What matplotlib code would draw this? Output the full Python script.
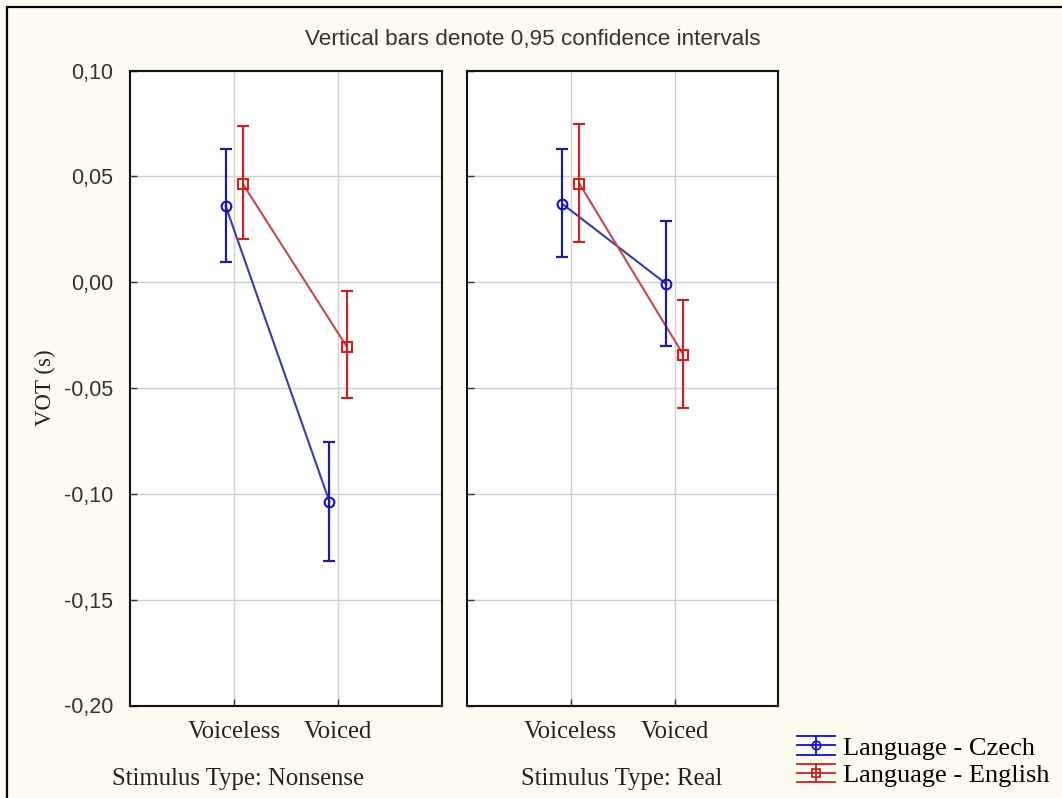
import matplotlib
matplotlib.use("Agg")
import matplotlib.pyplot as plt
from matplotlib.lines import Line2D
from matplotlib.legend_handler import HandlerBase
from matplotlib.ticker import FuncFormatter
from matplotlib.patches import Rectangle

# ---------------- data ----------------
categories = ["Voiceless", "Voiced"]
panels = ["Stimulus Type: Nonsense", "Stimulus Type: Real"]
languages = ["Language - Czech", "Language - English"]

nonsense_czech_mean = [0.0361, -0.1037]
nonsense_czech_lo = [0.0093, -0.1315]
nonsense_czech_hi = [0.0630, -0.0757]
nonsense_english_mean = [0.0465, -0.0304]
nonsense_english_lo = [0.0205, -0.0546]
nonsense_english_hi = [0.0740, -0.0044]

real_czech_mean = [0.0370, -0.0008]
real_czech_lo = [0.0117, -0.0300]
real_czech_hi = [0.0630, 0.0290]
real_english_mean = [0.0465, -0.0343]
real_english_lo = [0.0192, -0.0593]
real_english_hi = [0.0748, -0.0085]

yticks = [0.10, 0.05, 0.00, -0.05, -0.10, -0.15, -0.20]

# ---------------- style ----------------
BG = "#FDFAF0"
BLUE_BAR = "#1f1f8f"
BLUE_LINE = "#3a3ab0"
BLUE_MK = "#1010d0"
RED_BAR = "#c02828"
RED_LINE = "#c84848"
RED_MK = "#d02020"
GRID = "#cfcfcf"

fig = plt.figure(figsize=(10.62, 7.98), dpi=100, facecolor=BG)

# border on left/top
fig.add_artist(Rectangle((7 / 1062, -0.1), 1.2, 1 - 7 / 798 + 0.1,
                         transform=fig.transFigure, fill=False,
                         edgecolor="black", linewidth=1.6))

W = 311.7 / 1062
B = (798 - 705.5) / 798
H = (705.5 - 70.5) / 798
lefts = [130 / 1062, 466.7 / 1062]

data = [
    [(nonsense_czech_mean, nonsense_czech_lo, nonsense_czech_hi),
     (nonsense_english_mean, nonsense_english_lo, nonsense_english_hi)],
    [(real_czech_mean, real_czech_lo, real_czech_hi),
     (real_english_mean, real_english_lo, real_english_hi)],
]
styles = [
    dict(offset=-0.08, bar=BLUE_BAR, line=BLUE_LINE, mk=BLUE_MK, marker="o", ms=7),
    dict(offset=0.085, bar=RED_BAR, line=RED_LINE, mk=RED_MK, marker="s", ms=6.5),
]

fmt = FuncFormatter(lambda v, p: ("%.2f" % v).replace(".", ",").replace("-0,00", "0,00"))

axes = []
for i, left in enumerate(lefts):
    ax = fig.add_axes([left, B, W, H], facecolor="white")
    axes.append(ax)
    ax.set_xlim(-1, 2)
    ax.set_ylim(-0.20, 0.10)
    ax.set_xticks(range(len(categories)))
    ax.set_xticklabels(categories, family="Liberation Serif", fontsize=17.8, color="#222222")
    ax.set_yticks(yticks)
    ax.yaxis.set_major_formatter(fmt)
    ax.grid(True, color=GRID, linewidth=1.0)
    ax.set_axisbelow(True)
    ax.tick_params(axis="both", direction="in", length=5, width=1, color="#333333")
    ax.tick_params(axis="x", pad=11)
    ax.tick_params(axis="y", pad=12, labelsize=15.5, labelcolor="#333333")
    for lab in ax.get_yticklabels():
        lab.set_family("Liberation Sans")
    for s in ax.spines.values():
        s.set_linewidth(1.5)
        s.set_color("#111111")
    if i == 1:
        ax.tick_params(axis="y", labelleft=False)

    for (mean, lo, hi), st in zip(data[i], styles):
        xs = [k + st["offset"] for k in range(len(categories))]
        yerr = [[m - l for m, l in zip(mean, lo)], [h - m for m, h in zip(mean, hi)]]
        ax.plot(xs, mean, color=st["line"], linewidth=1.5, zorder=3)
        ax.errorbar(xs, mean, yerr=yerr, fmt="none", ecolor=st["bar"],
                    elinewidth=1.6, capsize=4, capthick=1.6, zorder=4)
        ax.plot(xs, mean, linestyle="none", marker=st["marker"], ms=st["ms"],
                markerfacecolor="none", markeredgecolor=st["mk"],
                markeredgewidth=1.5, zorder=5)

axes[0].set_ylabel("VOT (s)", family="Liberation Serif", fontsize=16.5, color="#222222",
                   labelpad=6)

fig.text(238 / 1062, 1 - 779 / 798, panels[0], family="Liberation Serif",
         fontsize=17.8, ha="center", va="center", color="#222222")
fig.text(622 / 1062, 1 - 779 / 798, panels[1], family="Liberation Serif",
         fontsize=17.8, ha="center", va="center", color="#222222")
fig.text(533 / 1062, 1 - 39 / 798, "Vertical bars denote 0,95 confidence intervals",
         family="Liberation Sans", fontsize=16.2, ha="center", va="center",
         color="#333333")


# ---------------- legend ----------------
class ErrHandler(HandlerBase):
    def create_artists(self, legend, orig_handle, xdescent, ydescent,
                       width, height, fontsize, trans):
        c = orig_handle.get_color()
        mk = orig_handle.get_marker()
        x0, x1 = -xdescent, -xdescent + width
        yc = -ydescent + height / 2
        h = height * 0.5
        arts = []
        for y in (yc - h, yc, yc + h):
            arts.append(Line2D([x0, x1], [y, y], color=c, linewidth=1.3, transform=trans))
        xm = (x0 + x1) / 2
        arts.append(Line2D([xm, xm], [yc - h, yc + h], color=c, linewidth=1.3, transform=trans))
        arts.append(Line2D([xm], [yc], marker=mk, markersize=6, markerfacecolor="none",
                           markeredgecolor=c, markeredgewidth=1.3, linestyle="none",
                           transform=trans))
        return arts


handles = [Line2D([], [], color=BLUE_MK, marker="o"),
           Line2D([], [], color=RED_MK, marker="s")]
fig.legend(handles, languages, handler_map={Line2D: ErrHandler()},
           loc="lower left", bbox_to_anchor=(797 / 1062, 1 - 787 / 798),
           frameon=False, prop={"family": "Liberation Serif", "size": 19},
           handlelength=1.45, handleheight=0.7, handletextpad=0.3,
           labelspacing=0.15, borderpad=0, borderaxespad=0)

fig.savefig("out.png", dpi=100, facecolor=BG)
